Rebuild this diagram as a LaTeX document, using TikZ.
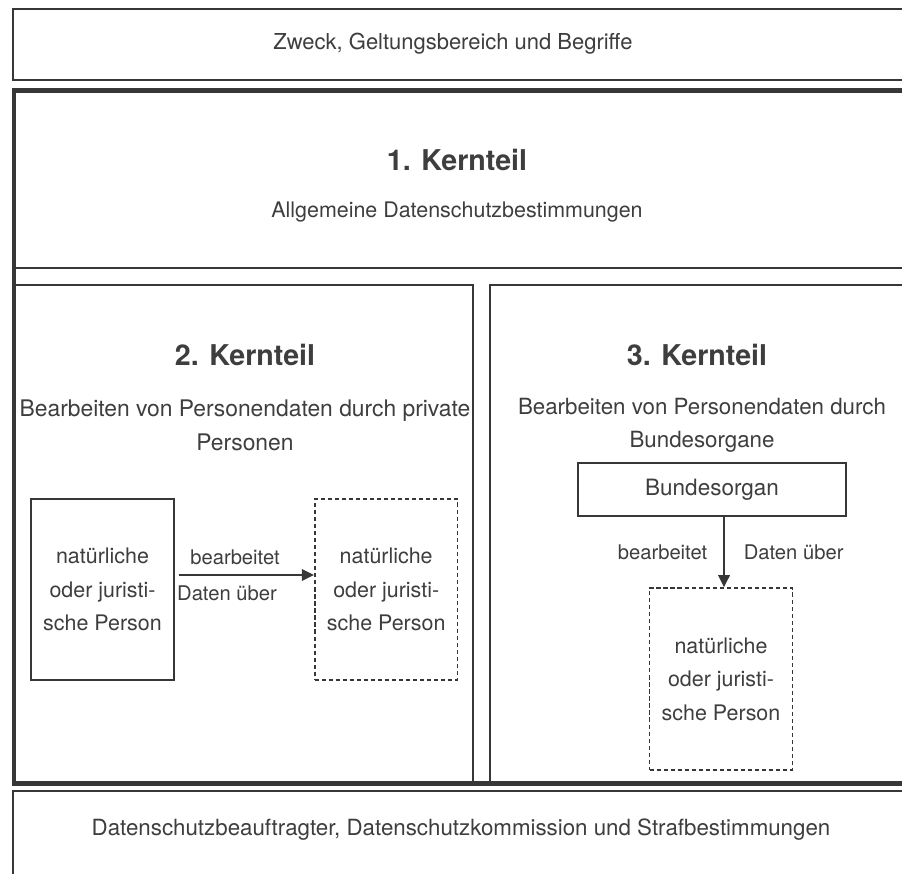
\documentclass[tikz,border=0pt]{standalone}
\usepackage{fontspec}
\setmainfont{TeX Gyre Heros}
\usepackage{xcolor}
\usepackage{tikz}
\usetikzlibrary{positioning, arrows.meta, calc}
\definecolor{ScanInk}{RGB}{55,55,55}
\definecolor{ScanText}{RGB}{62,62,62}
\tikzset{
    framethin/.style={
        draw=ScanInk, line width=1.1pt
    },
    framethick/.style={
        draw=ScanInk, line width=2.5pt
    },
    personbox/.style={
        draw=ScanInk, line width=1.1pt, minimum width=2.86cm, minimum height=3.62cm,
        inner sep=0pt, align=center, text=ScanText, font=\fontsize{12.2}{19}\selectfont
    },
    dashbox/.style={
        personbox, line width=0.9pt, dash pattern=on 2.4pt off 1.6pt
    },
    organbox/.style={
        draw=ScanInk, line width=1.1pt, minimum width=5.36cm, minimum height=1.06cm,
        inner sep=0pt, text=ScanText, font=\fontsize{12.8}{19}\selectfont
    },
    ptr/.style={
        -{Triangle[length=2.4mm, width=2.3mm]}, line width=1.1pt, ScanInk
    },
    labelptr/.style={
        font=\fontsize{11.5}{13}\selectfont, text=ScanText
    },
    headtxt/.style={
        font=\bfseries\fontsize{16.3}{18}\selectfont, text=ScanText
    },
    bodytxt/.style={
        font=\fontsize{12.7}{19}\selectfont, text=ScanText, align=center
    }
}
\begin{document}
\begin{tikzpicture}[x=0.02cm, y=-0.02cm]
    \useasboundingbox (0,0) rectangle (902,874);
    \clip (0,0) rectangle (902,874);
    \fill[white] (0,0) rectangle (902,874);

    % frames of the page
    \draw[framethin] (13,9) rectangle (920,80);
    \draw[framethin] (14,268) -- (920,268);
    \draw[framethin] (14,285) -- (473,285) -- (473,783);
    \draw[framethin] (920,285) -- (490,285) -- (490,783);
    \draw[framethick] (920,90.5) -- (14,90.5) -- (14,783.5) -- (920,783.5);
    \draw[framethin] (13,900) -- (13,791) -- (920,791);

    % texts
    \node[bodytxt, font=\fontsize{12.5}{19}\selectfont] (zweck) at (453,44) {Zweck, Geltungsbereich und Begriffe};
    \node[headtxt] (kern1) at (457,160) {1. Kernteil};
    \node[bodytxt, font=\fontsize{12.2}{19}\selectfont] (allg) at (457,212) {Allgemeine Datenschutzbestimmungen};
    \node[headtxt] (kern2) at (245,355) {2. Kernteil};
    \node[bodytxt, font=\fontsize{13}{19}\selectfont] (priv) at (245,425.5) {Bearbeiten von Personendaten durch private\\Personen};
    \node[headtxt] (kern3) at (697,355) {3. Kernteil};
    \node[bodytxt] (bund) at (702,425.5) {Bearbeiten von Personendaten durch\\Bundesorgane};
    \node[bodytxt] (rest) at (461,830) {Datenschutzbeauftragter, Datenschutzkommission und Strafbestimmungen};

    % 2. Kernteil
    \node[personbox] (lperson) at (102.5,589.5) {nat\"urliche\\oder juristi-\\sche Person};
    \node[dashbox, right=2.78cm of lperson] (lother) {nat\"urliche\\oder juristi-\\sche Person};
    \draw[ptr] ([xshift=0.08cm, yshift=0.29cm]lperson.east) -- ([yshift=0.29cm]lother.west);
    \node[labelptr] (lbearb) at (235,557) {bearbeitet};
    \node[labelptr] (ldaten) at (227,593) {Daten \"uber};

    % 3. Kernteil
    \node[organbox] (borgan) at (712,489.5) {Bundesorgan};
    \node[dashbox, minimum height=3.64cm] (rother) at (721,679) {nat\"urliche\\oder juristi-\\sche Person};
    \draw[ptr] ([xshift=0.24cm]borgan.south) -- ([xshift=0.24cm]borgan.south |- rother.north)
        node[labelptr, midway, left=0.2cm] (rbearb) {bearbeitet}
        node[labelptr, midway, right=0.26cm] (rdaten) {Daten \"uber};
\end{tikzpicture}
\end{document}
